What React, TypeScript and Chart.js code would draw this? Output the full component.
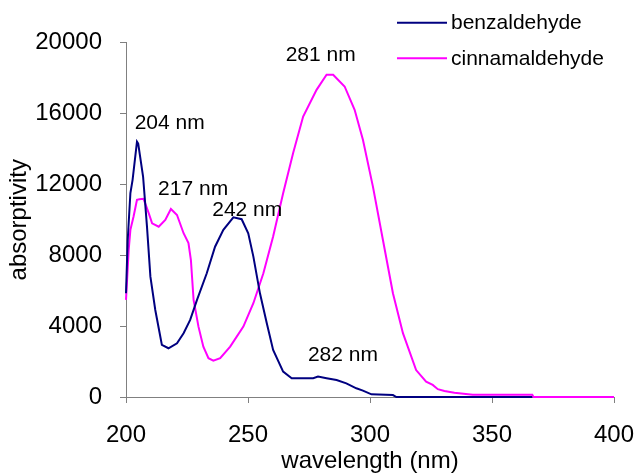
import React, { useEffect, useRef } from "react";
import { Chart, registerables } from "chart.js";

Chart.register(...registerables);

const seriesNames = ["benzaldehyde", "cinnamaldehyde"];
const seriesColors = ["#000080", "#FF00FF"];

const benzWavelength = [
  200, 200.7, 201.8, 202.7, 204.5, 205.0, 207.0, 208.6, 210.0, 212.0, 213.8, 214.7,
  217.4, 220.9, 223.6, 226.3, 229.1, 233.1, 236.5, 239.9, 244.0, 247.4, 250.1, 252.2,
  254.9, 257.7, 260.3, 264.4, 267.9, 276.7, 278.7, 282.2, 286.3, 290.3, 294.4, 297.1,
  300.6, 309.4, 310.8, 366.5,
];
const benzAbsorptivity = [
  5850, 8860, 11500, 12250, 14410, 14300, 12440, 9610, 6790, 4910, 3600, 2940,
  2750, 3030, 3600, 4350, 5480, 6980, 8480, 9430, 10140, 10030, 9240, 7920,
  5850, 4160, 2650, 1430, 1060, 1060, 1150, 1060, 960, 770, 490, 360,
  150, 110, 0, 0,
];

const cinnWavelength = [
  200, 201.1, 201.8, 203.1, 204.5, 205.5, 207.2, 209.3, 210.7, 213.4, 216.1, 218.4,
  220.9, 223.6, 225.6, 226.6, 227.7, 229.7, 231.7, 233.8, 235.8, 238.6, 242.7, 248.1,
  252.2, 256.3, 260.3, 264.4, 268.5, 272.6, 278.1, 282.2, 284.9, 289.6, 293.7, 297.1,
  301.2, 305.3, 309.4, 313.5, 318.9, 323.0, 325.7, 327.8, 330.5, 334.6, 342.1, 366.5,
  367.0, 400,
];
const cinnAbsorptivity = [
  5480, 8300, 9430, 10180, 11120, 11160, 11180, 10370, 9800, 9610, 9990, 10610,
  10270, 9240, 8680, 7730, 5480, 3970, 2840, 2190, 2050, 2190, 2840, 3970,
  5290, 6980, 9050, 11500, 13760, 15820, 17330, 18180, 18180, 17520, 16200, 14510,
  11870, 8860, 5850, 3600, 1520, 870, 680, 440, 340, 240, 130, 130,
  0, 0,
];

const xTicks = [200, 250, 300, 350, 400];
const yTicks = [0, 4000, 8000, 12000, 16000, 20000];

const peakLabels = ["204 nm", "217 nm", "242 nm", "281 nm", "282 nm"];
const peakLabelWavelength = [217.9, 227.5, 249.7, 279.8, 288.9];
const peakLabelAbsorptivity = [15523, 11770, 10584, 19351, 2416];

const FONT = "'Liberation Sans', Arial, Helvetica, sans-serif";

const overlayPlugin = {
  id: "overlay",
  afterDatasetsDraw(chart: any) {
    const ctx = chart.ctx;
    const xs = chart.scales.x;
    const ys = chart.scales.y;
    ctx.save();
    ctx.font = `21px ${FONT}`;
    ctx.fillStyle = "#000000";
    ctx.textAlign = "center";
    ctx.textBaseline = "middle";
    peakLabels.forEach((t, i) => {
      ctx.fillText(
        t,
        xs.getPixelForValue(peakLabelWavelength[i]),
        ys.getPixelForValue(peakLabelAbsorptivity[i]) + 1
      );
    });
    chart.data.datasets.forEach((ds: any, i: number) => {
      const y = 22.7 + i * 35.6;
      ctx.strokeStyle = ds.borderColor;
      ctx.lineWidth = 2;
      ctx.beginPath();
      ctx.moveTo(397, y);
      ctx.lineTo(447, y);
      ctx.stroke();
      ctx.textAlign = "left";
      ctx.fillStyle = "#000000";
      ctx.fillText(ds.label, 451, y + 1);
    });
    ctx.restore();
  },
};

export default function App() {
  const ref = useRef<HTMLCanvasElement | null>(null);

  useEffect(() => {
    if (!ref.current) return;
    Chart.defaults.font.family = FONT;
    Chart.defaults.color = "#000000";
    const toPoints = (xs: number[], ys: number[]) => xs.map((x, i) => ({ x, y: ys[i] }));
    const chart = new Chart(ref.current, {
      type: "line",
      data: {
        datasets: [
          {
            label: seriesNames[0],
            data: toPoints(benzWavelength, benzAbsorptivity),
            borderColor: seriesColors[0],
            backgroundColor: seriesColors[0],
            borderWidth: 2,
            pointRadius: 0,
            tension: 0,
            clip: false as any,
          },
          {
            label: seriesNames[1],
            data: toPoints(cinnWavelength, cinnAbsorptivity),
            borderColor: seriesColors[1],
            backgroundColor: seriesColors[1],
            borderWidth: 2,
            pointRadius: 0,
            tension: 0,
            clip: false as any,
          },
        ],
      },
      options: {
        responsive: false,
        animation: false,
        layout: { padding: { top: 42.5, right: 22, left: 0, bottom: 0 } },
        plugins: {
          legend: { display: false },
          tooltip: { enabled: false },
        },
        scales: {
          x: {
            type: "linear",
            min: 200,
            max: 400,
            afterFit: (s: any) => {
              s.height = 78;
              s.paddingLeft = 0;
              s.paddingRight = 0;
            },
            afterBuildTicks: (s: any) => {
              s.ticks = xTicks.map((v) => ({ value: v }));
            },
            ticks: {
              font: { size: 24, lineHeight: 1.2 },
              color: "#000000",
              padding: 18,
              maxRotation: 0,
              callback: (v: any) => String(v),
            },
            grid: { drawOnChartArea: false, tickLength: 6, color: "#808080" },
            border: { color: "#808080", width: 1 },
            title: {
              display: true,
              text: "wavelength (nm)",
              font: { size: 24, lineHeight: 1.1 },
              color: "#000000",
              padding: 0,
            },
          },
          y: {
            type: "linear",
            min: 0,
            max: 20000,
            afterFit: (s: any) => {
              s.width = 126;
              s.paddingTop = 0;
              s.paddingBottom = 0;
            },
            afterBuildTicks: (s: any) => {
              s.ticks = yTicks.map((v) => ({ value: v }));
            },
            ticks: {
              font: { size: 24, lineHeight: 1.2 },
              color: "#000000",
              padding: 18,
              callback: (v: any) => String(v),
            },
            grid: { drawOnChartArea: false, tickLength: 6, color: "#808080" },
            border: { color: "#808080", width: 1 },
            title: {
              display: true,
              text: "absorptivity",
              font: { size: 24, lineHeight: 1.1 },
              color: "#000000",
              padding: { top: 6, bottom: 0 },
            },
          },
        },
      },
      plugins: [overlayPlugin],
    });
    return () => chart.destroy();
  }, []);

  return (
    <div style={{ position: "fixed", left: 0, top: 0, width: 636, height: 475, background: "#ffffff" }}>
      <canvas ref={ref} width={636} height={475} style={{ display: "block", width: 636, height: 475 }} />
    </div>
  );
}
